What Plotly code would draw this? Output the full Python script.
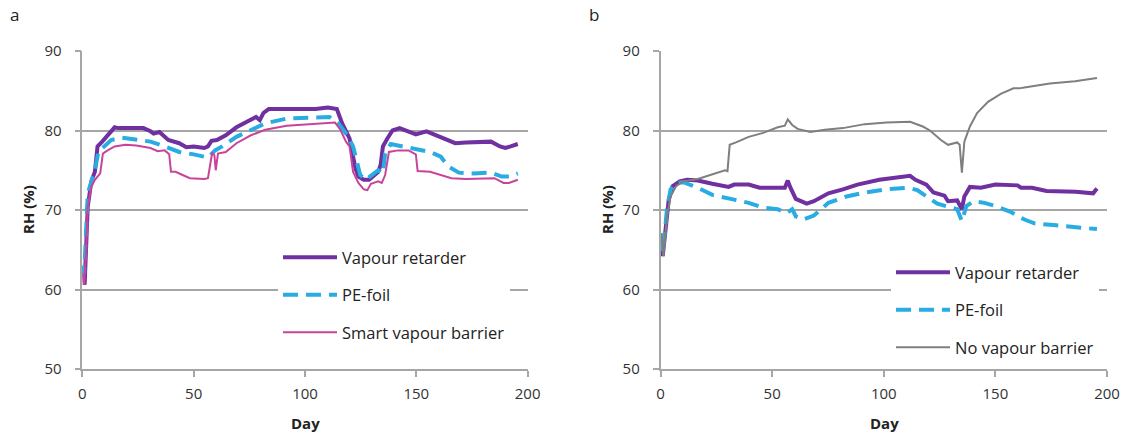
import plotly.graph_objects as go

# ---------------- data (panel a) ----------------
days_a_vr = [0.3, 1, 2.4, 4, 5.6, 6.8, 8.9, 14.5, 16, 27.4, 30.6, 32, 34.6, 38.6, 43.5, 46.7, 50, 54.8, 56.4, 58, 60.4,
             64.4, 69.2, 74, 78, 79.7, 81.3, 83.7, 91.8, 104.7, 110.3, 114.3, 116.7, 118.4, 120, 121.6, 122.7, 124,
             126.4, 128.8, 131, 132.9, 134, 135, 137, 139.3, 142.5, 145.7, 149.8, 154.6, 158.6, 162.6, 167.5, 172.3,
             183.6, 187.6, 190, 192.4, 195.6]
rh_a_vr = [62.9, 60.6, 70.4, 73.6, 74.8, 78.0, 78.6, 80.4, 80.3, 80.3, 79.9, 79.6, 79.8, 78.8, 78.4, 77.9, 78.0, 77.8,
           78.0, 78.7, 78.8, 79.4, 80.4, 81.1, 81.7, 81.3, 82.2, 82.7, 82.7, 82.7, 82.9, 82.7, 80.9, 79.9, 79.0, 76.7,
           75.2, 74.2, 73.8, 73.8, 74.4, 74.8, 75.7, 78.0, 79.0, 80.0, 80.3, 80.0, 79.5, 79.9, 79.4, 78.9, 78.4, 78.5,
           78.6, 78.0, 77.8, 78.0, 78.3]

days_a_pe = [0, 0.8, 2.4, 4, 5.6, 7.2, 9.7, 12.9, 17.7, 24.2, 30.6, 37, 43.5, 50, 56.4, 59.6, 62.8, 69.2, 75.7, 82.1,
             91.8, 104.7, 111, 115, 119, 121.6, 123.2, 124.8, 127.2, 130.4, 132.9, 135, 136, 138.5, 143.3, 149.8,
             156.2, 161, 164.3, 169.1, 175.5, 183.6, 188.4, 191.6, 195.6]
rh_a_pe = [63.1, 62.0, 72.1, 73.6, 75.0, 77.3, 78.0, 78.8, 79.1, 78.9, 78.6, 78.0, 77.3, 77.0, 76.6, 77.5, 78.0, 79.2,
           80.1, 80.9, 81.5, 81.7, 81.7, 80.9, 79.4, 78.0, 75.9, 74.4, 73.8, 74.4, 75.0, 74.6, 77.1, 78.3, 78.0, 77.6,
           77.3, 76.7, 75.5, 74.7, 74.6, 74.7, 74.2, 74.2, 74.6]

days_a_svb = [0.3, 0.8, 1.6, 2.4, 4, 5.6, 8, 9.2, 11.3, 14.5, 19.3, 24.2, 30.6, 33.8, 37, 39, 39.8, 41.9, 45, 48.3,
              54.8, 56.4, 58.3, 59.3, 59.9, 60.9, 64.4, 69.2, 75.7, 82.1, 91.8, 101.4, 107.9, 113.5, 115.9, 118.4, 120,
              121.6, 124, 126.4, 128, 129.6, 132.9, 134.5, 136, 137.7, 141.7, 146.5, 149.8, 150.6, 156.2, 161, 165.8,
              172.3, 185.1, 189.2, 191.6, 195.6]
rh_a_svb = [62.0, 60.6, 64.5, 70.4, 72.9, 73.8, 74.6, 77.1, 77.5, 78.0, 78.2, 78.1, 77.8, 77.4, 77.5, 77.0, 74.8, 74.8,
            74.4, 74.0, 73.9, 74.0, 77.2, 76.9, 75.0, 77.1, 77.3, 78.4, 79.4, 80.1, 80.6, 80.8, 80.9, 81.0, 80.1, 78.6,
            78.0, 74.8, 73.4, 72.6, 72.5, 73.3, 73.6, 73.4, 74.4, 77.3, 77.5, 77.5, 77.0, 74.9, 74.8, 74.4, 74.0, 73.9,
            74.0, 73.4, 73.4, 73.8]

# ---------------- data (panel b) ----------------
days_b_vr = [0.5, 1, 2.1, 3.7, 5.4, 8.6, 11.9, 16.7, 23.2, 30.5, 33, 39.5, 44.4, 55.7, 57, 58.2, 60.6, 65.5, 68.7,
             75.2, 81.7, 88.2, 98, 104.5, 111.8, 114.2, 119.1, 122.3, 127.2, 128.8, 132.9, 135, 136.1, 138.6, 143.5,
             150, 159.9, 161.5, 166.4, 172.9, 185.9, 193.8, 195.5]
rh_b_vr = [66.3, 64.2, 67.1, 71.3, 73.0, 73.6, 73.8, 73.7, 73.3, 72.9, 73.2, 73.2, 72.8, 72.8, 73.7, 72.8, 71.4, 70.8,
           71.1, 72.1, 72.6, 73.2, 73.8, 74.0, 74.3, 73.8, 73.2, 72.2, 71.8, 71.1, 71.2, 70.1, 71.7, 72.9, 72.8, 73.2,
           73.1, 72.8, 72.8, 72.4, 72.3, 72.1, 72.7]

days_b_pe = [0, 1, 2.9, 4.5, 7, 10.2, 16.7, 23.2, 31.4, 39.5, 46, 52.5, 56.5, 59, 60.6, 63.9, 68.7, 75.2, 83.3, 91.5,
             101.2, 111, 115, 119.1, 124, 128.8, 132.9, 135, 137, 140.2, 145.1, 150, 156.5, 163, 167.8, 176, 185.7,
             195.5]
rh_b_pe = [66.7, 64.6, 70.1, 72.6, 73.4, 73.5, 72.8, 71.9, 71.4, 70.9, 70.3, 70.1, 69.6, 70.1, 69.2, 68.8, 69.3, 70.9,
           71.7, 72.2, 72.6, 72.8, 72.5, 71.7, 70.8, 70.4, 70.1, 68.6, 70.5, 71.1, 70.9, 70.5, 69.8, 68.8, 68.3, 68.1,
           67.9, 67.6]

days_b_nvb = [0.5, 1.3, 2.9, 4.5, 7, 10.2, 16.7, 20, 24.9, 28.9, 30, 31, 33.8, 39.5, 46, 52.5, 55.7, 57, 59, 61.4,
              67.1, 73.6, 81.7, 91.5, 101.2, 111.8, 117.5, 120.7, 125.6, 128.8, 132.9, 134, 135, 136.1, 138.6, 141.8,
              146.7, 152.4, 158.1, 160.6, 163, 174.4, 185.7, 195.5]
rh_b_nvb = [67.1, 64.2, 69.2, 71.7, 73.0, 73.6, 73.9, 74.2, 74.7, 75.0, 74.9, 78.2, 78.5, 79.2, 79.7, 80.4, 80.6, 81.4,
            80.7, 80.2, 79.8, 80.1, 80.3, 80.8, 81.0, 81.1, 80.5, 80.0, 78.8, 78.2, 78.5, 78.2, 74.7, 78.6, 80.5, 82.2,
            83.6, 84.6, 85.3, 85.3, 85.4, 85.9, 86.2, 86.6]

x_ticks = [0, 50, 100, 150, 200]
y_ticks = [50, 60, 70, 80, 90]

PURPLE = "#7030A0"
BLUE = "#29ACE2"
MAGENTA = "#C8449B"
GRAY = "#7F7F7F"
GRID = "#A6A6A6"
FONT = "Open Sans"

W, H = 1126, 435

fig = go.Figure()

fig.add_trace(go.Scatter(x=days_a_vr, y=rh_a_vr, mode="lines", name="Vapour retarder",
                         line=dict(color=PURPLE, width=4), xaxis="x", yaxis="y",
                         legend="legend", legendgroup="a1"))
fig.add_trace(go.Scatter(x=days_a_pe, y=rh_a_pe, mode="lines", name="PE-foil",
                         line=dict(color=BLUE, width=4, dash="15px,8px"), xaxis="x", yaxis="y",
                         legend="legend", legendgroup="a2"))
fig.add_trace(go.Scatter(x=days_a_svb, y=rh_a_svb, mode="lines", name="Smart vapour barrier",
                         line=dict(color=MAGENTA, width=2), xaxis="x", yaxis="y",
                         legend="legend", legendgroup="a3"))

fig.add_trace(go.Scatter(x=days_b_vr, y=rh_b_vr, mode="lines", name="Vapour retarder",
                         line=dict(color=PURPLE, width=4), xaxis="x2", yaxis="y2",
                         legend="legend2", legendgroup="b1"))
fig.add_trace(go.Scatter(x=days_b_pe, y=rh_b_pe, mode="lines", name="PE-foil",
                         line=dict(color=BLUE, width=4, dash="15px,8px"), xaxis="x2", yaxis="y2",
                         legend="legend2", legendgroup="b2"))
fig.add_trace(go.Scatter(x=days_b_nvb, y=rh_b_nvb, mode="lines", name="No vapour barrier",
                         line=dict(color=GRAY, width=2), xaxis="x2", yaxis="y2",
                         legend="legend2", legendgroup="b3"))

# plot area pixel geometry
ax_left = (82.4, 527.6)
ax_right = (660.5, 1107.0)
y_top, y_bot = 51.0, 369.0
ydom = [(H - y_bot) / H, (H - y_top) / H]

xaxis_common = dict(range=[0, 200], tickvals=x_ticks, showgrid=False, zeroline=False, automargin=False,
                    showline=True, linecolor=GRID, linewidth=1.5, ticks="outside", ticklen=6,
                    tickcolor=GRID, tickwidth=1.5, ticklabelstandoff=4,
                    tickfont=dict(family=FONT, size=15, color="#333333"), fixedrange=True)
yaxis_common = dict(range=[50, 90], tickvals=y_ticks, showgrid=True, gridcolor=GRID, gridwidth=1.5,
                    zeroline=False, showline=True, linecolor=GRID, linewidth=1.5, ticks="outside",
                    ticklen=6, tickcolor=GRID, tickwidth=1.5, ticklabelstandoff=10, automargin=False,
                    tickfont=dict(family=FONT, size=15, color="#333333"), fixedrange=True)

legend_common = dict(bgcolor="white", borderwidth=0, tracegroupgap=13, itemwidth=54,
                     font=dict(family=FONT, size=16.5, color="#222222"),
                     xanchor="left", yanchor="top", orientation="v")

fig.update_layout(
    width=W, height=H, autosize=False,
    margin=dict(l=0, r=0, t=0, b=0, pad=0),
    paper_bgcolor="white", plot_bgcolor="white",
    font=dict(family=FONT, color="#222222"),
    xaxis=dict(domain=[ax_left[0] / W, ax_left[1] / W], anchor="y", **xaxis_common),
    yaxis=dict(domain=ydom, anchor="x", **yaxis_common),
    xaxis2=dict(domain=[ax_right[0] / W, ax_right[1] / W], anchor="y2", **xaxis_common),
    yaxis2=dict(domain=ydom, anchor="x2", **yaxis_common),
    legend=dict(x=278 / W, y=1 - 240 / H, entrywidth=180, entrywidthmode="pixels", **legend_common),
    legend2=dict(x=891 / W, y=1 - 255 / H, entrywidth=146, entrywidthmode="pixels", **legend_common),
    showlegend=True,
)

annots = [
    dict(text="a", x=15 / W, y=1 - 15 / H, font=dict(size=17)),
    dict(text="b", x=594 / W, y=1 - 15 / H, font=dict(size=17)),
    dict(text="<b>RH (%)</b>", x=28 / W, y=1 - 210 / H, textangle=-90, font=dict(size=15)),
    dict(text="<b>RH (%)</b>", x=607 / W, y=1 - 210 / H, textangle=-90, font=dict(size=15)),
    dict(text="<b>Day</b>", x=305 / W, y=1 - 423 / H, font=dict(size=15)),
    dict(text="<b>Day</b>", x=885 / W, y=1 - 423 / H, font=dict(size=15)),
]
for a in annots:
    a.update(xref="paper", yref="paper", showarrow=False, xanchor="center", yanchor="middle")
    a["font"].update(family=FONT, color="#222222")
fig.update_layout(annotations=annots)

fig.write_html("out.html")
